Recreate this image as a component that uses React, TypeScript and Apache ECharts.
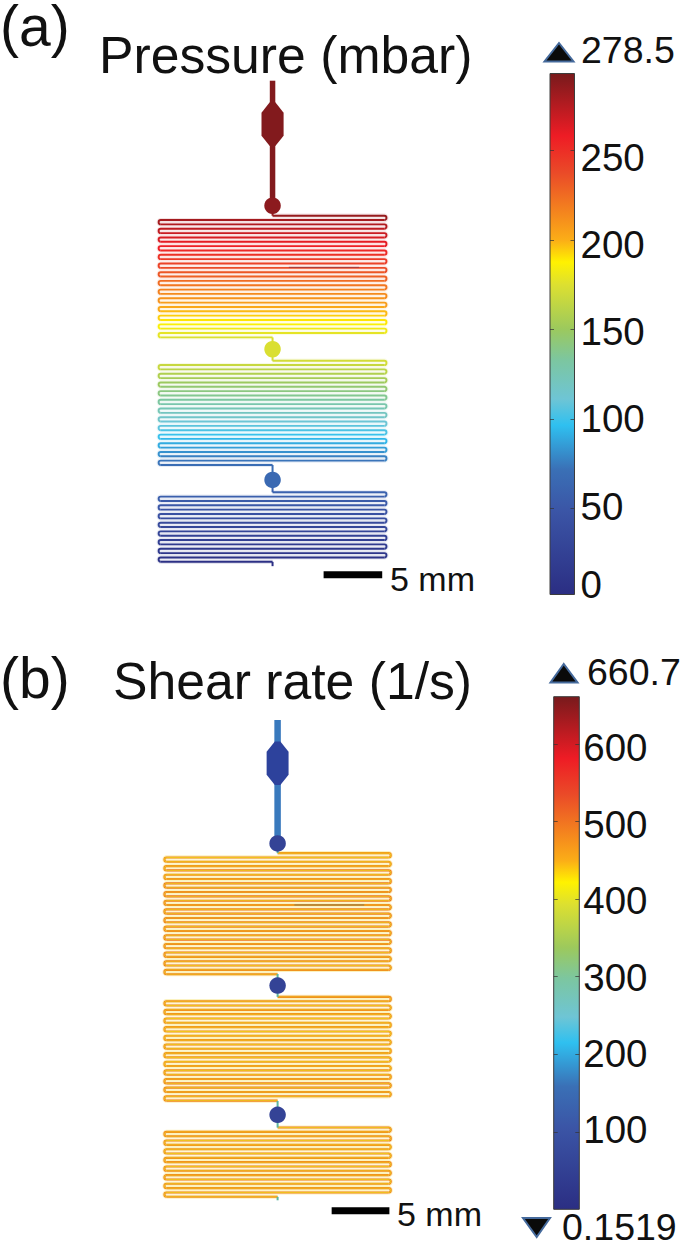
import React, { useEffect, useRef } from "react";
import * as echarts from "echarts";

const FONT = "Liberation Sans";

// colour ramp shared by both bars: position from the top of the bar, colour
const rampStops: [number, string][] = [
  [0, "#781a1c"], [0.12, "#ee1c25"], [0.19, "#ea4a28"], [0.32, "#fbae17"], [0.362, "#fff200"],
  [0.405, "#dde030"], [0.49, "#9cc95d"], [0.55, "#7cc6a0"], [0.625, "#6ec5d5"], [0.675, "#2fc0f0"],
  [0.76, "#3a70b6"], [0.84, "#3b55a6"], [1, "#2b2e83"],
];

// pressure (mbar) along each serpentine row
const pressureRowsA1 = [284, 280, 276, 272, 269, 265, 261, 257, 253, 249, 245, 241, 237, 233, 229, 225, 221, 217, 213, 210, 206, 202, 198, 194, 190, 186, 182, 178, 174];
const pressureRowsA2 = [171, 167, 162, 158, 154, 150, 145, 141, 137, 133, 128, 124, 120, 116, 111, 107, 103, 99, 94, 90, 86, 82, 77, 73, 69];
const pressureRowsA3 = [60, 57, 53, 50, 46, 43, 39, 36, 32, 29, 25, 22, 18, 15, 12, 8, 5];
// wall shear rate (1/s) along each serpentine row
const shearRowsB1 = [482, 484, 486, 488, 500, 486, 494, 502, 506, 504, 506, 502, 500, 496, 502, 504, 498, 496, 502, 500, 504, 502, 496, 500, 494, 500, 496, 494, 498];
const shearRowsB2 = [498, 492, 490, 492, 488, 486, 484, 486, 482, 484, 488, 490, 486, 484, 482, 480, 486, 488, 492, 496, 500, 496, 494, 492, 496];
const shearRowsB3 = [496, 492, 500, 488, 484, 486, 488, 490, 494, 492, 496, 494, 492, 486, 488, 490, 492];
const shearCentre = 405;

// chip layout in mm: y of the first row of each section, y of the round chambers
const sectionYsA = [11.64, 24.14, 35.48];
const chamberYsA = [10.78, 23.15, 34.42];
const chamberPressure = [287, 174, 66];
const sectionYsB = [11.53, 23.98, 35.3];
const chamberYsB = [10.69, 23.0, 34.2];
const chamberShear = [58, 58, 58];
const rowPitch = 0.3745;
const halfWidth = 9.61;

const pressureBar = { min: 2.1, max: 293, ticks: [50, 100, 150, 200, 250] };
const shearBar = { min: 0.1519, max: 660.7, ticks: [100, 200, 300, 400, 500, 600] };
const pressureLabels = [5, 50, 100, 150, 200, 250];
const shearLabels = [100, 200, 300, 400, 500, 600];

const rampColor = (f: number) => {
  for (let i = 1; i < rampStops.length; i++) {
    if (f <= rampStops[i][0]) {
      const [a, ca] = rampStops[i - 1];
      const [b, cb] = rampStops[i];
      return echarts.color.lerp((f - a) / (b - a), [ca, cb]) as string;
    }
  }
  return rampStops[rampStops.length - 1][1];
};
const colorOf = (v: number, bar: { min: number; max: number }) => rampColor((bar.max - v) / (bar.max - bar.min));

const barGradient = () =>
  new echarts.graphic.LinearGradient(0, 0, 0, 1, rampStops.map(([offset, color]) => ({ offset, color })));

// [x start, y, x end, value, bend side]
const buildRows = (sectionYs: number[], sections: number[][]) => {
  const out: number[][] = [];
  sections.forEach((vals, s) => {
    vals.forEach((v, i) => {
      const n = vals.length;
      const right = i % 2 === 0;
      const x0 = i === 0 ? 0 : right ? -halfWidth : halfWidth;
      const x1 = i === n - 1 ? 0 : right ? halfWidth : -halfWidth;
      out.push([x0, sectionYs[s] + i * rowPitch, x1, v, i === n - 1 ? 0 : right ? 1 : -1]);
    });
  });
  return out;
};

const rowPath = (api: any, p: number[]) => {
  const a = api.coord([p[0], p[1]]);
  const b = api.coord([p[2], p[1]]);
  let d = `M${a[0]} ${a[1]}L${b[0]} ${b[1]}`;
  if (p[4] !== 0) {
    const c = api.coord([p[2], p[1] + rowPitch]);
    const r = (c[1] - b[1]) / 2;
    d += `A${r} ${r} 0 0 ${p[4] > 0 ? 1 : 0} ${c[0]} ${c[1]}`;
  }
  return d;
};

const rowsSeries = (xi: number, yi: number, data: number[][], bar: any, centre: number | null, width: number) => ({
  type: "custom",
  xAxisIndex: xi,
  yAxisIndex: yi,
  coordinateSystem: "cartesian2d",
  clip: false,
  silent: true,
  data,
  renderItem: (_: any, api: any) => {
    const p = [api.value(0), api.value(1), api.value(2), api.value(3), api.value(4)];
    const d = rowPath(api, p);
    const children: any[] = [
      { type: "path", shape: { pathData: d }, style: { fill: "none", stroke: colorOf(p[3], bar), lineWidth: width } },
    ];
    if (centre != null) {
      children.push({ type: "path", shape: { pathData: d }, style: { fill: "none", stroke: colorOf(centre, bar), lineWidth: 0.9, opacity: 0.75 } });
    }
    return { type: "group", children };
  },
});

// soft wash under the rows, the tint that sits between the channel walls
const rowsWash = (xi: number, yi: number, data: number[][], bar: any, fixed: string | null, opacity: number) => ({
  type: "custom",
  xAxisIndex: xi,
  yAxisIndex: yi,
  coordinateSystem: "cartesian2d",
  clip: false,
  silent: true,
  z: 1,
  data,
  renderItem: (_: any, api: any) => {
    const p = [api.value(0), api.value(1), api.value(2), api.value(3), api.value(4)];
    return {
      type: "path",
      shape: { pathData: rowPath(api, p) },
      style: { fill: "none", stroke: fixed || colorOf(p[3], bar), lineWidth: 4.2, opacity },
    };
  },
});

const stem = (xi: number, yi: number, y0: number, y1: number, color: string, width: number) => ({
  type: "line",
  xAxisIndex: xi,
  yAxisIndex: yi,
  silent: true,
  symbol: "none",
  clip: false,
  z: 2,
  lineStyle: { color, width, cap: "butt" },
  data: [[0, y0], [0, y1]],
});

const segment = (xi: number, yi: number, x0: number, x1: number, y: number, color: string, width: number) => ({
  type: "line",
  xAxisIndex: xi,
  yAxisIndex: yi,
  silent: true,
  symbol: "none",
  clip: false,
  z: 3,
  lineStyle: { color, width, cap: "butt" },
  data: [[x0, y], [x1, y]],
});

const octagonOutline = [[-0.24, 1.86], [0.24, 1.86], [0.95, 2.76], [0.95, 4.74], [0.24, 5.63], [-0.24, 5.63], [-0.95, 4.74], [-0.95, 2.76]];

const octagon = (xi: number, yi: number, color: string) => ({
  type: "custom",
  xAxisIndex: xi,
  yAxisIndex: yi,
  clip: false,
  silent: true,
  z: 4,
  data: [[0, 0]],
  renderItem: (_: any, api: any) => ({
    type: "polygon",
    shape: { points: octagonOutline.map((q) => api.coord(q)) },
    style: { fill: color },
  }),
});

const chambers = (xi: number, yi: number, ys: number[], colors: string[]) => ({
  type: "scatter",
  xAxisIndex: xi,
  yAxisIndex: yi,
  silent: true,
  clip: false,
  z: 4,
  symbol: "circle",
  symbolSize: 16.5,
  data: ys.map((y, i) => ({ value: [0, y], itemStyle: { color: colors[i], opacity: 1 } })),
});

const colorBar = (xi: number, yi: number, bar: { min: number; max: number }) => ({
  type: "custom",
  xAxisIndex: xi,
  yAxisIndex: yi,
  silent: true,
  clip: false,
  data: [[0, bar.min, 1, bar.max]],
  renderItem: (_: any, api: any) => {
    const a = api.coord([api.value(0), api.value(3)]);
    const b = api.coord([api.value(2), api.value(1)]);
    return {
      type: "rect",
      shape: { x: a[0], y: a[1], width: b[0] - a[0], height: b[1] - a[1] },
      style: { fill: barGradient(), stroke: "#3c3c3c", lineWidth: 1 },
      z2: 1,
    };
  },
});

const tickAxis = (gridIndex: number, bar: any, position: string) => ({
  type: "value",
  gridIndex,
  position,
  min: bar.min,
  max: bar.max,
  splitLine: { show: false },
  axisLine: { show: false },
  axisLabel: { show: false },
  axisTick: { show: true, inside: true, length: 4, customValues: bar.ticks, lineStyle: { color: "#333", width: 1, opacity: 0.7 } },
  z: 5,
});

const labelAxis = (gridIndex: number, min: number, max: number, values: number[], step: number, margin: number) => ({
  type: "value",
  gridIndex,
  position: "right",
  min,
  max,
  splitLine: { show: false },
  axisLine: { show: false },
  axisTick: { show: false },
  axisLabel: {
    show: true,
    margin,
    customValues: values,
    formatter: (v: number) => String(Math.round(v / step) * step),
    color: "#111",
    fontFamily: FONT,
    fontSize: 38.5,
    align: "left",
    verticalAlign: "middle",
  },
});

const chipAxisX = (gridIndex: number) => ({ type: "value", gridIndex, min: -12, max: 12, show: false });
const chipAxisY = (gridIndex: number) => ({ type: "value", gridIndex, min: 0, max: 42.5, inverse: true, show: false });
const barAxisX = (gridIndex: number) => ({ type: "value", gridIndex, min: 0, max: 1, show: false });

const text = (t: string, x: number, y: number, size: number) => ({
  type: "text",
  x,
  y,
  style: { text: t, fontFamily: FONT, fontSize: size, lineHeight: Math.round(size * 0.85), fill: "#111", textAlign: "left", textVerticalAlign: "middle" },
});

const triangle = (pts: number[][]) => ({
  type: "polygon",
  shape: { points: pts },
  style: { fill: "#0a0a0a", stroke: "#456a9c", lineWidth: 2 },
});

export default function App() {
  const ref = useRef<HTMLDivElement>(null);
  useEffect(() => {
    document.body.style.margin = "0";
    const chart = echarts.init(ref.current!, undefined, { renderer: "svg" });
    const c = (v: number) => colorOf(v, pressureBar);
    const s = (v: number) => colorOf(v, shearBar);
    const rowsA = buildRows(sectionYsA, [pressureRowsA1, pressureRowsA2, pressureRowsA3]);
    const rowsB = buildRows(sectionYsB, [shearRowsB1, shearRowsB2, shearRowsB3]);
    chart.setOption({
      animation: false,
      backgroundColor: "#fff",
      grid: [
        { left: 133, top: 80.7, width: 279.1, height: 493 },
        { left: 550, top: 73.5, width: 24.5, height: 521 },
        { left: 139, top: 720, width: 277.2, height: 490.7 },
        { left: 553.7, top: 696.7, width: 25.6, height: 512.6 },
      ],
      xAxis: [chipAxisX(0), barAxisX(1), chipAxisX(2), barAxisX(3)],
      yAxis: [
        chipAxisY(0),
        tickAxis(1, pressureBar, "left"),
        tickAxis(1, pressureBar, "right"),
        labelAxis(1, -0.7, 297.9, pressureLabels, 50, 6),
        chipAxisY(2),
        tickAxis(3, shearBar, "left"),
        tickAxis(3, shearBar, "right"),
        labelAxis(3, -3.8, 667, shearLabels, 100, 4),
      ],
      series: [
        colorBar(1, 1, pressureBar),
        colorBar(3, 5, shearBar),
        // panel a
        stem(0, 0, 0, 10.78, c(290), 5.5),
        octagon(0, 0, c(290)),
        chambers(0, 0, chamberYsA, chamberPressure.map(c)),
        stem(0, 0, 10.78, 11.64, c(284), 2),
        stem(0, 0, 22.13, 23.15, c(174), 2),
        stem(0, 0, 23.15, 24.14, c(171), 2),
        stem(0, 0, 33.13, 34.42, c(69), 2),
        stem(0, 0, 34.42, 35.48, c(60), 2),
        stem(0, 0, 41.48, 41.85, c(5), 2),
        rowsWash(0, 0, rowsA, pressureBar, null, 0.13),
        rowsSeries(0, 0, rowsA, pressureBar, null, 1.9),
        segment(0, 0, 1.4, 7.45, 16.09, "#a5393a", 1),
        segment(0, 0, 4.39, 9.43, 42.6, "#000", 7),
        // panel b
        stem(2, 4, 0, 10.69, s(165), 6.5),
        octagon(2, 4, "#2d429c"),
        chambers(2, 4, chamberYsB, chamberShear.map(s)),
        stem(2, 4, 10.69, 11.53, "#5cb6a0", 2),
        stem(2, 4, 22.0, 23.0, "#5cb6a0", 2),
        stem(2, 4, 23.0, 23.98, "#5cb6a0", 2),
        stem(2, 4, 33.0, 34.2, "#5cb6a0", 2),
        stem(2, 4, 34.2, 35.3, "#5cb6a0", 2),
        stem(2, 4, 41.3, 41.6, "#5cb6a0", 2),
        rowsWash(2, 4, rowsB, shearBar, "#fbf2c0", 1),
        rowsSeries(2, 4, rowsB, shearBar, shearCentre, 2.1),
        segment(2, 4, 1.45, 7.5, 16.02, "#8a7a50", 1),
        segment(2, 4, 4.68, 9.68, 42.5, "#000", 7),
      ],
      title: [
        { text: "Pressure (mbar)", left: 99, top: 29, padding: 0, textStyle: { fontFamily: FONT, fontSize: 51.7, fontWeight: "normal", color: "#111" } },
        { text: "Shear rate (1/s)", left: 113, top: 655, padding: 0, textStyle: { fontFamily: FONT, fontSize: 51.7, fontWeight: "normal", color: "#111" } },
      ],
      graphic: [
        text("(a)", 0, 26, 57),
        text("(b)", 0, 678, 57),
        text("5 mm", 390, 579, 34),
        text("5 mm", 397, 1214, 34),
        text("278.5", 581, 50, 37.5),
        text("660.7", 587, 672, 37.5),
        text("0.1519", 562, 1227, 37.5),
        triangle([[559, 43], [544.5, 61.5], [573.5, 61.5]]),
        triangle([[563.7, 664], [550.5, 682.5], [577.5, 682.5]]),
        triangle([[523, 1218], [550, 1218], [536.7, 1237]]),
      ],
    });
    return () => chart.dispose();
  }, []);
  return <div ref={ref} style={{ width: 680, height: 1242 }} />;
}
